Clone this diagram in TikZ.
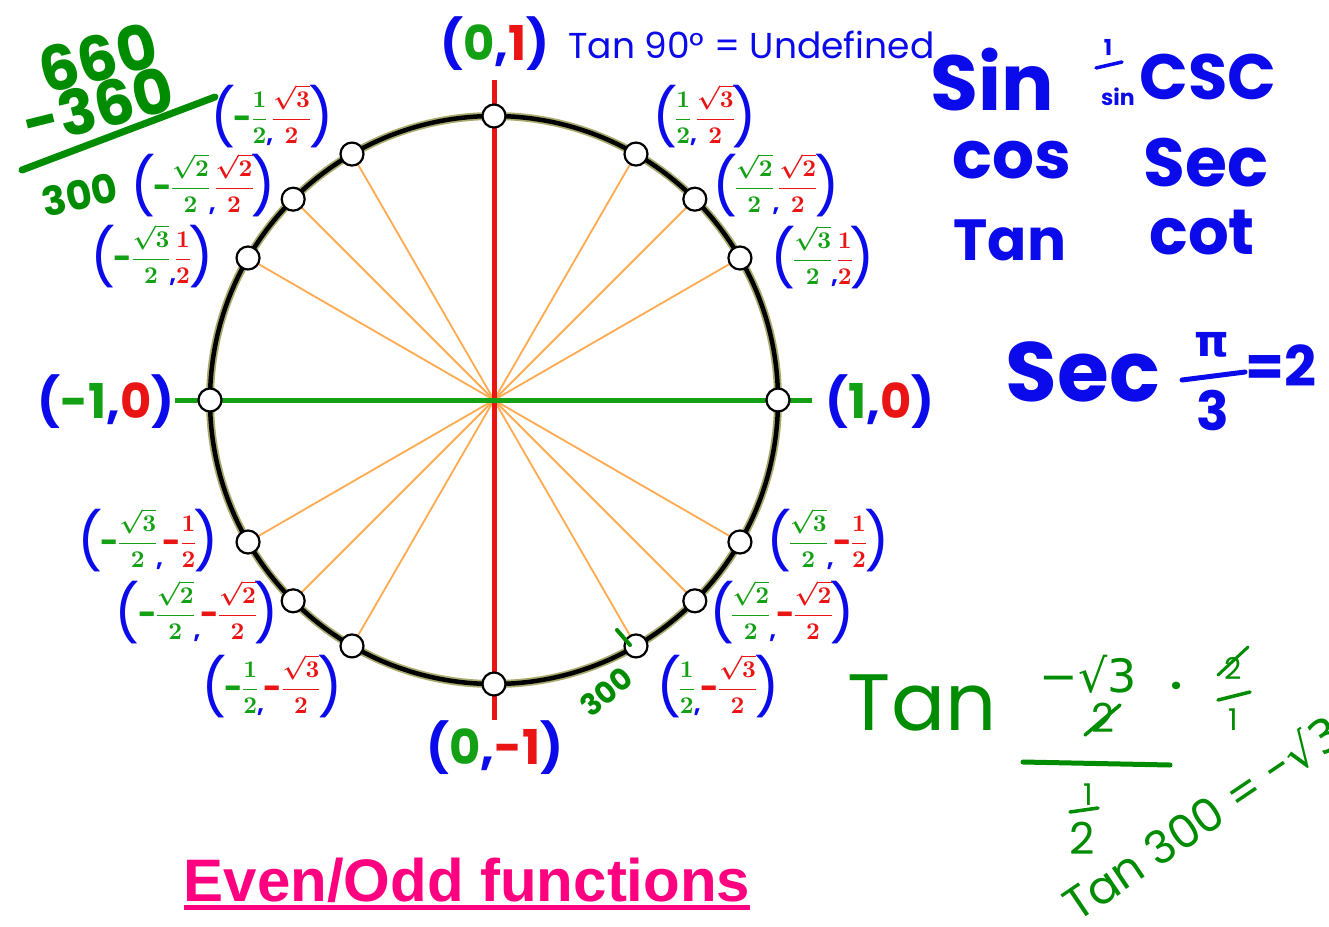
\documentclass[tikz,border=0pt]{standalone}
\usepackage{amsmath}
\usepackage{graphicx}
\usepackage{fontspec}
\setmainfont{Liberation Sans}
\newfontfamily\hand{Poppins}
\newfontfamily\dvs{DejaVu Sans}
\definecolor{cb}{RGB}{10,10,235}
\definecolor{cg}{RGB}{20,160,20}
\definecolor{cr}{RGB}{235,20,20}
\definecolor{hg}{RGB}{0,140,0}
\definecolor{orl}{RGB}{255,170,80}
\definecolor{pk}{RGB}{255,0,128}
\definecolor{glow}{RGB}{170,170,110}
\newcommand\lp{\textcolor{cb}{\raisebox{-12pt}{\hand\fontsize{56}{56}\selectfont(}}\hspace{-2pt}}
\newcommand\rp{\hspace{-2pt}\textcolor{cb}{\raisebox{-12pt}{\hand\fontsize{56}{56}\selectfont)}}}
\newcommand\cm{\textcolor{cb}{\raisebox{-17pt}{\hand\bfseries\fontsize{24}{24}\selectfont,}}}
\newcommand\mn[1]{\textcolor{#1}{\raisebox{-4pt}{\hand\bfseries\fontsize{32}{32}\selectfont-}}}
\newcommand\fm[2]{\scalebox{2.4}{\boldmath\(\nulldelimiterspace=0pt\displaystyle\color{#1}#2\)}}
\newcommand\gf[1]{\fm{cg}{#1}}
\newcommand\rf[1]{\fm{cr}{#1}}
\newcommand\cpair[2]{\lp#1\cm#2\rp}
\newcommand\axl[2]{\textcolor{cb}{(}\textcolor{cg}{#1}\textcolor{cb}{,}\textcolor{cr}{#2}\textcolor{cb}{)}}
\newcommand\hf{\frac{1}{2}}
\newcommand\rt[1]{\frac{\sqrt{#1}}{2}}
\tikzset{
  dotn/.style={circle,draw=black,fill=white,line width=2.2pt,minimum size=23pt,inner sep=0pt},
  spoke/.style={orl,line width=1.8pt},
  coord/.style={inner sep=0pt},
  axlab/.style={font=\hand\bfseries\fontsize{48}{48}\selectfont,inner sep=0pt},
  bh/.style={text=cb,inner sep=0pt},
  gh/.style={text=hg,inner sep=0pt},
  gstroke/.style={hg,line width=5pt,line cap=round},
  bstroke/.style={cb,line width=5pt,line cap=round},
}
\begin{document}
\begin{tikzpicture}[x=1pt,y=-1pt]
\useasboundingbox[fill=white] (0,0) rectangle (1329,926);
\coordinate (c) at (494,400);
\coordinate (vt) at (494,80);
\coordinate (vb) at (494,720);
\coordinate (hl) at (175,400);
\coordinate (hr) at (812,400);
% spokes
\foreach \a in {30,45,60,120,135,150,210,225,240,300,315,330}{
  \coordinate (q\a) at ({494+284*cos(\a)},{400-284*sin(\a)});
  \draw[spoke] (c) -- (q\a);
}
% axes
\draw[line width=5pt,cr] (vt) -- (vb);
\draw[line width=5pt,cg] (hl) -- (hr);
% circle
\draw[glow,line width=8pt] (c) circle[radius=284];
\draw[black,line width=4.5pt] (c) circle[radius=284];
% points
\foreach \a in {0,30,45,60,90,120,135,150,180,210,225,240,270,300,315,330}{
  \node[dotn] (p\a) at ({494+284*cos(\a)},{400-284*sin(\a)}) {};
}
% axis labels
\node[axlab] (l90) at (495,44) {\axl{0}{1}};
\node[axlab] (l0) at (880,402) {\axl{1}{0}};
\node[axlab] (l180) at (106,402) {\axl{-1}{0}};
\node[axlab] (l270) at (495,748) {\axl{0}{-1}};
% coordinate labels
\node[coord] (l30) at (823,257) {\cpair{\gf{\rt3}}{\rf{\hf}}};
\node[coord] (l45) at (776,185) {\cpair{\gf{\rt2}}{\rf{\rt2}}};
\node[coord] (l60) at (705,116) {\cpair{\gf{\hf}}{\rf{\rt3}}};
\node[coord] (l120) at (272,116) {\cpair{\mn{cg}\gf{\hf}}{\rf{\rt3}}};
\node[coord] (l135) at (203,185) {\cpair{\mn{cg}\gf{\rt2}}{\rf{\rt2}}};
\node[coord] (l150) at (152,256) {\cpair{\mn{cg}\gf{\rt3}}{\rf{\hf}}};
\node[coord] (l210) at (148,540) {\cpair{\mn{cg}\gf{\rt3}}{\mn{cr}\rf{\hf}}};
\node[coord] (l225) at (197,612) {\cpair{\mn{cg}\gf{\rt2}}{\mn{cr}\rf{\rt2}}};
\node[coord] (l240) at (272,686) {\cpair{\mn{cg}\gf{\hf}}{\mn{cr}\rf{\rt3}}};
\node[coord] (l300) at (718,686) {\cpair{\gf{\hf}}{\mn{cr}\rf{\rt3}}};
\node[coord] (l315) at (782,612) {\cpair{\gf{\rt2}}{\mn{cr}\rf{\rt2}}};
\node[coord] (l330) at (828,540) {\cpair{\gf{\rt3}}{\mn{cr}\rf{\hf}}};
% top-left green work
\node[gh,rotate=14,font=\hand\bfseries\fontsize{62}{62}\selectfont] (n660) at (98,58) {660};
\node[gh,rotate=14,font=\hand\bfseries\fontsize{62}{62}\selectfont] (n360) at (98,106) {-360};
\coordinate (sa) at (22,170);
\coordinate (sb) at (215,97);
\draw[gstroke,line width=7pt] (sa) -- (sb);
\node[gh,rotate=12,font=\hand\bfseries\fontsize{40}{40}\selectfont] (n300) at (80,195) {300};
% small 300 by point
\node[gh,rotate=40,font=\hand\bfseries\fontsize{30}{30}\selectfont] (s300) at (606,692) {300};
\coordinate (ta) at (617,630);
\coordinate (tb) at (630,645);
\draw[gstroke,line width=4pt] (ta) -- (tb);
% top blue note
\node[bh,anchor=west,font=\hand\fontsize{36}{36}\selectfont] (tan90) at (568,45) {Tan 90° = Undefined};
% right column
\node[bh,font=\hand\bfseries\fontsize{78}{78}\selectfont] (sin) at (992,80) {Sin};
\node[bh,font=\hand\bfseries\fontsize{22}{22}\selectfont] (one) at (1108,47) {1};
\coordinate (ra) at (1096,68);
\coordinate (rb) at (1122,62);
\draw[bstroke,line width=3.5pt] (ra) -- (rb);
\node[bh,font=\hand\bfseries\fontsize{22}{22}\selectfont] (ssin) at (1118,97) {sin};
\node[bh,font=\hand\bfseries\fontsize{64}{64}\selectfont] (csc) at (1208,77) {CSC};
\node[bh,font=\hand\bfseries\fontsize{66}{66}\selectfont] (cos) at (1012,160) {cos};
\node[bh,font=\hand\bfseries\fontsize{68}{68}\selectfont] (sec) at (1206,163) {Sec};
\node[bh,font=\hand\bfseries\fontsize{58}{58}\selectfont] (tan) at (1010,240) {Tan};
\node[bh,font=\hand\bfseries\fontsize{64}{64}\selectfont] (cot) at (1202,233) {cot};
% Sec pi/3 = 2
\node[bh,font=\hand\bfseries\fontsize{84}{84}\selectfont] (sec2) at (1083,372) {Sec};
\node[bh,font=\dvs\bfseries\fontsize{44}{44}\selectfont] (pi) at (1212,345) {π};
\coordinate (fa) at (1182,380);
\coordinate (fb) at (1245,372);
\draw[bstroke] (fa) -- (fb);
\node[bh,font=\hand\bfseries\fontsize{54}{54}\selectfont] (three) at (1213,410) {3};
\node[bh,font=\hand\bfseries\fontsize{56}{56}\selectfont] (eq2) at (1281,366) {=2};
% green Tan fraction
\node[gh,font=\hand\fontsize{80}{80}\selectfont] (gtan) at (922,703) {Tan};
\node[gh,font=\dvs\fontsize{46}{46}\selectfont] (num) at (1088,674) {−√3};
\node[gh,font=\hand\fontsize{40}{40}\selectfont] (two) at (1103,718) {2};
\coordinate (xa) at (1085,735);
\coordinate (xb) at (1120,705);
\draw[gstroke,line width=3.5pt] (xa) -- (xb);
\node[gh,font=\hand\bfseries\fontsize{40}{40}\selectfont] (dot) at (1176,690) {·};
\node[gh,font=\hand\fontsize{30}{30}\selectfont] (two2) at (1233,668) {2};
\coordinate (ya) at (1218,675);
\coordinate (yb) at (1248,647);
\draw[gstroke,line width=3pt] (ya) -- (yb);
\coordinate (za) at (1218,700);
\coordinate (zb) at (1250,692);
\draw[gstroke,line width=3.5pt] (za) -- (zb);
\node[gh,font=\hand\fontsize{30}{30}\selectfont] (one2) at (1233,720) {1};
\coordinate (ma) at (1023,762);
\coordinate (mb) at (1170,765);
\draw[gstroke] (ma) -- (mb);
\node[gh,font=\hand\fontsize{30}{30}\selectfont] (dn1) at (1088,795) {1};
\coordinate (da) at (1070,812);
\coordinate (db) at (1098,808);
\draw[gstroke,line width=3.5pt] (da) -- (db);
\node[gh,font=\hand\fontsize{44}{44}\selectfont] (dn2) at (1082,838) {2};
\node[gh,rotate=34,anchor=south west,font=\hand\fontsize{46}{46}\selectfont] (tan300) at (1078,924) {Tan 300 = -{\dvs √3}};
% title
\node[text=pk,font=\bfseries\fontsize{60}{60}\selectfont,inner sep=0pt] (title) at (467,880) {Even/Odd functions};
\coordinate (ua) at (184,907);
\coordinate (ub) at (750,907);
\draw[pk,line width=5pt] (ua) -- (ub);
\end{tikzpicture}
\end{document}
